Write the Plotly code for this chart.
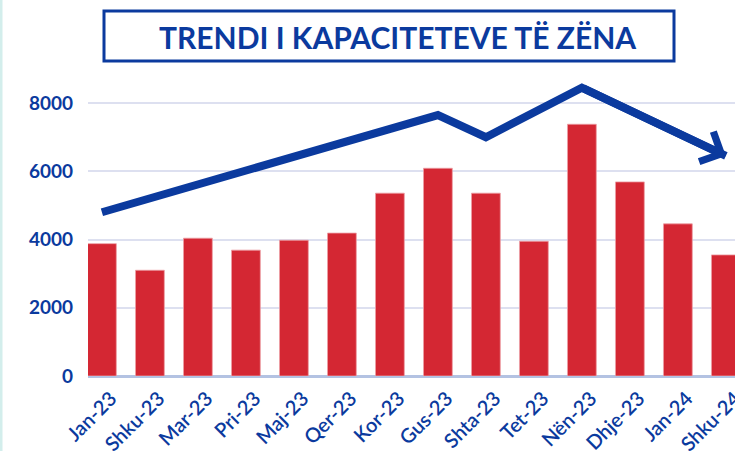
import plotly.graph_objects as go

months = ["Jan-23", "Shku-23", "Mar-23", "Pri-23", "Maj-23", "Qer-23", "Kor-23",
          "Gus-23", "Shta-23", "Tet-23", "Nën-23", "Dhje-23", "Jan-24", "Shku-24"]
occupied = [3880, 3100, 4040, 3690, 3980, 4190, 5360, 6090, 5360, 3950, 7380, 5690, 4460, 3550]

trend_x = ["Jan-23", "Gus-23", "Shta-23", "Nën-23", "Shku-24"]
trend_y = [4800, 7650, 7000, 8450, 6450]

title_text = "TRENDI I KAPACITETEVE TË ZËNA"
y_ticks = [0, 2000, 4000, 6000, 8000]

BLUE = "#0b3a9e"
RED = "#d42733"
FONT = "Lato"

fig = go.Figure()
fig.add_trace(go.Bar(
    x=months, y=occupied, marker=dict(color=RED, line=dict(color="#ec9ea4", width=0.8)),
    width=0.6, showlegend=False, hoverinfo="x+y"))
fig.add_trace(go.Scatter(
    x=trend_x, y=trend_y, mode="lines",
    line=dict(color=BLUE, width=8),
    cliponaxis=False, showlegend=False))

W, H = 735, 451
L, R, T, B = 88, 0, 69, 75
pw, ph = W - L - R, H - T - B

def px(xp):
    return (xp - L) / pw

def py(yp):
    return (H - B - yp) / ph

# arrowhead on the final trend segment (category indices from the data lists)
x_end = months.index(trend_x[-1])
x_prev = months.index(trend_x[-2])

fig.update_layout(
    width=W, height=H,
    margin=dict(l=L, r=R, t=T, b=B, autoexpand=False),
    paper_bgcolor="white", plot_bgcolor="white",
    bargap=0.4,
    font=dict(family=FONT, color=BLUE),
    xaxis=dict(
        type="category", range=[-0.29, 13.19], tickangle=-45,
        tickfont=dict(family=FONT, size=20, color=BLUE, weight=600),
        ticklabelstandoff=6, ticklabelshift=9, automargin=False,
        showgrid=False, showline=False, ticks="", zeroline=False),
    yaxis=dict(
        range=[0, 9000], tickvals=y_ticks,
        ticktext=[str(v) for v in y_ticks],
        tickfont=dict(family=FONT, size=19, color=BLUE, weight="bold"),
        showgrid=True, gridcolor="#dde0f0", gridwidth=1.5,
        zeroline=True, zerolinecolor="#b3c2e2", zerolinewidth=2.5,
        ticklabelstandoff=14, showline=False, automargin=False),
    shapes=[
        dict(type="rect", xref="paper", yref="paper",
             x0=px(104), x1=px(674), y0=py(61), y1=py(11),
             line=dict(color=BLUE, width=3), fillcolor="white", layer="above"),
        dict(type="rect", xref="paper", yref="paper",
             x0=px(0), x1=px(2.5), y0=py(451), y1=py(0),
             line=dict(width=0), fillcolor="#d3eeec", layer="below"),
    ],
    annotations=[
        dict(text=title_text, xref="paper", yref="paper",
             x=px(397), y=py(37), xanchor="center", yanchor="middle",
             showarrow=False,
             font=dict(family=FONT, size=30, color=BLUE, weight="bold")),
        dict(text="", x=x_end, y=trend_y[-1], xref="x", yref="y",
             ax=x_prev, ay=trend_y[-2], axref="x", ayref="y",
             showarrow=True, arrowhead=4, arrowsize=0.8, arrowwidth=8,
             arrowcolor=BLUE),
    ],
)

fig.write_html("out.html")
